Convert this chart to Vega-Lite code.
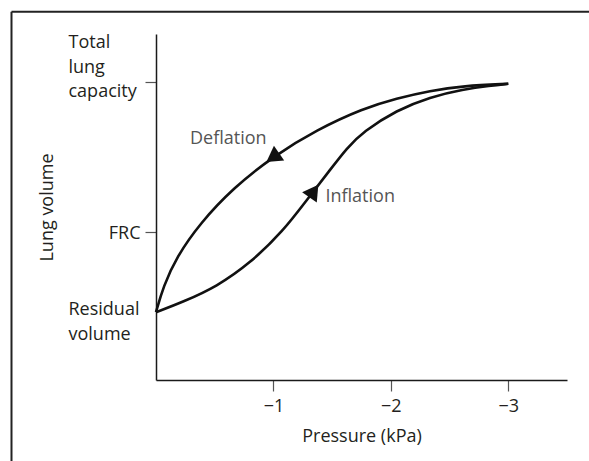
{
  "$schema": "https://vega.github.io/schema/vega-lite/v6.json",
  "width": 411,
  "height": 346,
  "autosize": {"type": "none"},
  "padding": {"left": 156, "top": 34, "right": 22, "bottom": 81},
  "background": "white",
  "config": {"view": {"stroke": null}, "font": "Open Sans"},
  "datasets": {
    "curves": [
      {"phase": "Deflation", "pressure": 0, "volume": 1.96},
      {"phase": "Deflation", "pressure": -0.062, "volume": 2.70},
      {"phase": "Deflation", "pressure": -0.176, "volume": 3.56},
      {"phase": "Deflation", "pressure": -0.375, "volume": 4.53},
      {"phase": "Deflation", "pressure": -0.658, "volume": 5.55},
      {"phase": "Deflation", "pressure": -1.0, "volume": 6.47},
      {"phase": "Deflation", "pressure": -1.368, "volume": 7.23},
      {"phase": "Deflation", "pressure": -1.765, "volume": 7.85},
      {"phase": "Deflation", "pressure": -2.05, "volume": 8.14},
      {"phase": "Deflation", "pressure": -2.333, "volume": 8.36},
      {"phase": "Deflation", "pressure": -2.617, "volume": 8.50},
      {"phase": "Deflation", "pressure": -3.0, "volume": 8.56},
      {"phase": "Inflation", "pressure": 0, "volume": 1.96},
      {"phase": "Inflation", "pressure": -0.232, "volume": 2.26},
      {"phase": "Inflation", "pressure": -0.517, "volume": 2.70},
      {"phase": "Inflation", "pressure": -0.8, "volume": 3.37},
      {"phase": "Inflation", "pressure": -1.084, "volume": 4.31},
      {"phase": "Inflation", "pressure": -1.283, "volume": 5.20},
      {"phase": "Inflation", "pressure": -1.482, "volume": 6.07},
      {"phase": "Inflation", "pressure": -1.624, "volume": 6.70},
      {"phase": "Inflation", "pressure": -1.765, "volume": 7.18},
      {"phase": "Inflation", "pressure": -2.05, "volume": 7.80},
      {"phase": "Inflation", "pressure": -2.333, "volume": 8.18},
      {"phase": "Inflation", "pressure": -2.617, "volume": 8.40},
      {"phase": "Inflation", "pressure": -2.844, "volume": 8.51},
      {"phase": "Inflation", "pressure": -3.0, "volume": 8.56}
    ],
    "arrows": [
      {"phase": "Deflation", "pressure": -1.012, "volume": 6.47},
      {"phase": "Inflation", "pressure": -1.332, "volume": 5.40}
    ],
    "notes": [
      {"label": "Deflation", "pressure": -0.29, "volume": 6.82},
      {"label": "Inflation", "pressure": -1.443, "volume": 5.15}
    ]
  },
  "layer": [
    {
      "encoding": {
        "x": {
          "field": "pressure",
          "type": "quantitative",
          "scale": {"domain": [0, -3.5], "nice": false, "zero": false},
          "axis": {
            "title": "Pressure (kPa)",
            "values": [-1, -2, -3],
            "format": "d",
            "grid": false,
            "domainColor": "#1a1a1a",
            "domainWidth": 1.5,
            "tickColor": "#555555",
            "tickWidth": 1.2,
            "tickSize": 11,
            "labelFont": "Open Sans",
            "labelFontSize": 18,
            "labelColor": "#231f20",
            "labelPadding": 6,
            "titleFont": "Open Sans",
            "titleFontSize": 18,
            "titleFontWeight": "normal",
            "titleColor": "#231f20",
            "titlePadding": 12
          }
        },
        "y": {
          "field": "volume",
          "type": "quantitative",
          "scale": {"domain": [0, 10], "nice": false, "zero": false},
          "axis": {
            "title": "Lung volume",
            "values": [1.96, 4.27, 8.6],
            "labelExpr": "datum.value > 8 ? ['Total', 'lung', 'capacity'] : datum.value > 4 ? 'FRC' : ['Residual', 'volume']",
            "labelAlign": {"condition": {"test": "datum.value > 4 && datum.value < 5", "value": "right"}, "value": "left"},
            "labelPadding": {"condition": {"test": "datum.value > 4 && datum.value < 5", "value": 5}, "value": 77},
            "labelOffset": {"condition": [{"test": "datum.value > 8", "value": -39.5}, {"test": "datum.value < 3", "value": -2.6}], "value": 1},
            "labelBaseline": "middle",
            "labelLineHeight": 24.5,
            "labelOverlap": false,
            "labelFont": "Open Sans",
            "labelFontSize": 18,
            "labelColor": "#231f20",
            "tickColor": {"condition": {"test": "datum.value < 3", "value": "transparent"}, "value": "#555555"},
            "tickWidth": 1.2,
            "tickSize": 11,
            "grid": false,
            "domainColor": "#1a1a1a",
            "domainWidth": 1.5,
            "titleFont": "Open Sans",
            "titleFontSize": 18,
            "titleFontWeight": "normal",
            "titleColor": "#231f20",
            "titlePadding": 12
          }
        }
      },
      "layer": [
        {
          "data": {"name": "curves"},
          "mark": {"type": "line", "color": "#111111", "strokeWidth": 2.6, "interpolate": "basis"},
          "encoding": {
            "detail": {"field": "phase", "type": "nominal"}
          }
        },
        {
          "data": {"name": "arrows"},
          "mark": {"type": "point", "shape": "triangle", "filled": true, "color": "#111111", "opacity": 1, "size": 320},
          "encoding": {
            "angle": {
              "field": "phase",
              "type": "nominal",
              "scale": {"domain": ["Deflation", "Inflation"], "range": [235, 35]},
              "legend": null
            }
          }
        },
        {
          "data": {"name": "notes"},
          "mark": {"type": "text", "align": "left", "baseline": "alphabetic", "font": "Open Sans", "fontSize": 18, "color": "#555555"},
          "encoding": {
            "text": {"field": "label", "type": "nominal"}
          }
        }
      ]
    },
    {
      "data": {"values": [{}]},
      "mark": {"type": "rule", "color": "#222222", "strokeWidth": 2, "clip": false},
      "encoding": {
        "x": {"datum": 1.2306, "type": "quantitative"},
        "x2": {"datum": -3.8},
        "y": {"datum": 10.642, "type": "quantitative"}
      }
    },
    {
      "data": {"values": [{}]},
      "mark": {"type": "rule", "color": "#222222", "strokeWidth": 2, "clip": false},
      "encoding": {
        "x": {"datum": 1.2306, "type": "quantitative"},
        "y": {"datum": 10.642, "type": "quantitative"},
        "y2": {"datum": -2.6}
      }
    }
  ]
}
